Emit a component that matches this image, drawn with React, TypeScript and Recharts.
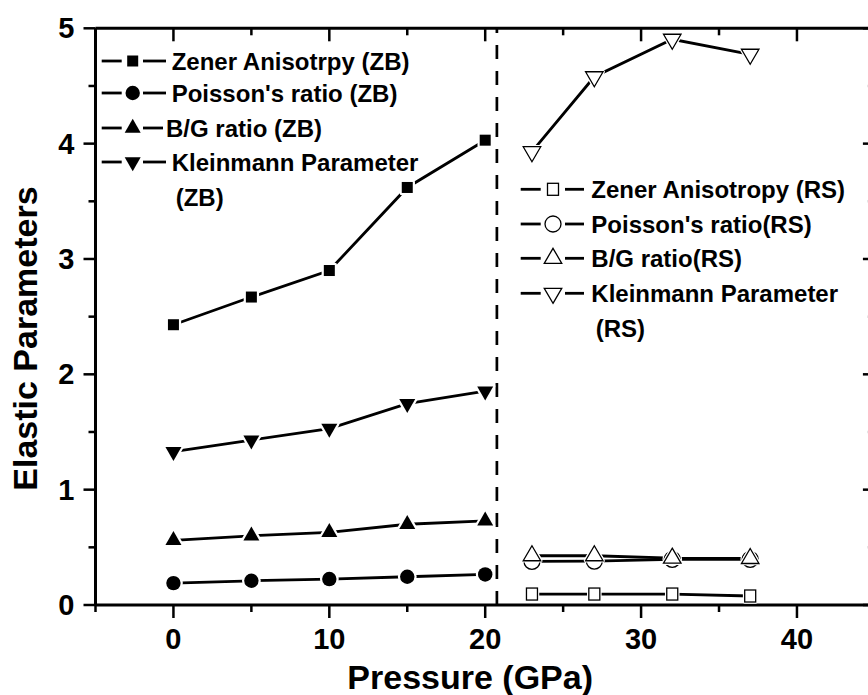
import React from "react";
import { LineChart, Line, XAxis, YAxis, ReferenceLine, Legend, Label } from "recharts";

// pressure points (GPa)
const pressureZB = [0, 5, 10, 15, 20];
const pressureRS = [23, 27, 32, 37];

// zinc blende phase
const zenerZB = [2.43, 2.67, 2.9, 3.62, 4.03];
const poissonZB = [0.19, 0.21, 0.225, 0.245, 0.265];
const bgZB = [0.56, 0.6, 0.63, 0.7, 0.73];
const kleinZB = [1.33, 1.43, 1.53, 1.745, 1.855];

// rock salt phase
const zenerRS = [0.095, 0.095, 0.095, 0.078];
const poissonRS = [0.379, 0.381, 0.396, 0.396];
const bgRS = [0.427, 0.427, 0.406, 0.403];
const kleinRS = [3.93, 4.58, 4.905, 4.775];

const transitionPressure = 20.75;

const xTicks = [-5, 0, 5, 10, 15, 20, 25, 30, 35, 40, 45];
const yTicks = [0, 0.5, 1, 1.5, 2, 2.5, 3, 3.5, 4, 4.5, 5];

const FONT = "'Liberation Sans', Arial, Helvetica, sans-serif";

type Shape = "square" | "circle" | "up" | "down";

interface SeriesDef {
  key: string;
  legend: string[];
  pressure: number[];
  values: number[];
  shape: Shape;
  filled: boolean;
}

const seriesZB: SeriesDef[] = [
  { key: "zenerZB", legend: ["Zener Anisotrpy (ZB)"], pressure: pressureZB, values: zenerZB, shape: "square", filled: true },
  { key: "poissonZB", legend: ["Poisson's ratio (ZB)"], pressure: pressureZB, values: poissonZB, shape: "circle", filled: true },
  { key: "bgZB", legend: ["B/G ratio (ZB)"], pressure: pressureZB, values: bgZB, shape: "up", filled: true },
  { key: "kleinZB", legend: ["Kleinmann Parameter", "(ZB)"], pressure: pressureZB, values: kleinZB, shape: "down", filled: true },
];

const seriesRS: SeriesDef[] = [
  { key: "zenerRS", legend: ["Zener Anisotropy (RS)"], pressure: pressureRS, values: zenerRS, shape: "square", filled: false },
  { key: "poissonRS", legend: ["Poisson's ratio(RS)"], pressure: pressureRS, values: poissonRS, shape: "circle", filled: false },
  { key: "bgRS", legend: ["B/G ratio(RS)"], pressure: pressureRS, values: bgRS, shape: "up", filled: false },
  { key: "kleinRS", legend: ["Kleinmann Parameter", "(RS)"], pressure: pressureRS, values: kleinRS, shape: "down", filled: false },
];

const toPoints = (s: SeriesDef) => s.pressure.map((p, i) => ({ p, v: s.values[i] }));

function drawShape(shape: Shape, filled: boolean, cx: number, cy: number, style: any) {
  const sq = 11;
  const sqH = filled ? 11 : 12;
  const r = filled ? 7.2 : 8;
  const w = filled ? 16 : 17.5;
  const h = filled ? 14 : 15;
  if (shape === "square") return <rect x={cx - sq / 2} y={cy - sqH / 2} width={sq} height={sqH} {...style} />;
  if (shape === "circle") return <circle cx={cx} cy={cy} r={r} {...style} />;
  if (shape === "up")
    return <polygon points={`${cx},${cy - (2 * h) / 3} ${cx + w / 2},${cy + h / 3} ${cx - w / 2},${cy + h / 3}`} {...style} />;
  return <polygon points={`${cx},${cy + (2 * h) / 3} ${cx + w / 2},${cy - h / 3} ${cx - w / 2},${cy - h / 3}`} {...style} />;
}

const Marker = ({ cx, cy, shape, filled, halo }: { cx: number; cy: number; shape: Shape; filled: boolean; halo: number }) => (
  <g>
    {halo > 0 &&
      drawShape(shape, filled, cx, cy, { fill: "#fff", stroke: "#fff", strokeWidth: halo * 2, strokeLinejoin: "round" })}
    {drawShape(shape, filled, cx, cy, filled ? { fill: "#000" } : { fill: "#fff", stroke: "#000", strokeWidth: 1.3 })}
  </g>
);

// tick renderers: tickSize/tickMargin are 0, so x/y is the axis position
const LeftTick = (props: any) => {
  const { x, y, payload } = props;
  const major = Number.isInteger(payload.value);
  return (
    <g>
      <line x1={x - (major ? 12 : 7)} x2={x} y1={y} y2={y} stroke="#000" strokeWidth={2.5} />
      {major && (
        <text x={x - 21} y={y} dy="0.34em" textAnchor="end" fontFamily={FONT} fontWeight="bold" fontSize={29} fill="#000">
          {payload.value}
        </text>
      )}
    </g>
  );
};

const RightTick = (props: any) => {
  const { x, y, payload } = props;
  const major = Number.isInteger(payload.value);
  return <line x1={x - (major ? 12 : 7)} x2={x} y1={y} y2={y} stroke="#000" strokeWidth={2.5} />;
};

const BottomTick = (props: any) => {
  const { x, y, payload } = props;
  const major = payload.value % 10 === 0;
  return (
    <g>
      <line x1={x} x2={x} y1={y} y2={y + (major ? 13 : 7)} stroke="#000" strokeWidth={2.5} />
      {major && (
        <text x={x} y={y + 44} textAnchor="middle" fontFamily={FONT} fontWeight="bold" fontSize={29} fill="#000">
          {payload.value}
        </text>
      )}
    </g>
  );
};

const TopTick = (props: any) => {
  const { x, y, payload } = props;
  const major = payload.value % 10 === 0;
  return <line x1={x} x2={x} y1={y} y2={y + (major ? 13 : 7)} stroke="#000" strokeWidth={2.5} />;
};

interface BlockLayout {
  rows: number[];
  contY: number;
  segA: [number, number];
  markX: number;
  segB: [number, number];
  textX: number;
  contX: number;
}

const zbLayout: BlockLayout = { rows: [61, 93, 128, 162], contY: 197, segA: [101.7, 121.7], markX: 132.7, segB: [143, 166], textX: 171.7, contX: 175.7 };
const rsLayout: BlockLayout = { rows: [189.3, 224, 258.3, 293.3], contY: 328.3, segA: [520.7, 540.7], markX: 553, segB: [565, 584], textX: 591.3, contX: 595.7 };

const LegendBlock = ({ items, lay }: { items: SeriesDef[]; lay: BlockLayout }) => (
  <g>
    {items.map((s, i) => {
      const y = lay.rows[i];
      const tight = s.legend[0].startsWith("B/G") && s.filled;
      const tx = tight ? lay.textX - 5.7 : lay.textX;
      const segEnd = tight ? lay.segB[1] - 3 : lay.segB[1];
      return (
        <g key={s.key}>
          <line x1={lay.segA[0]} x2={lay.segA[1]} y1={y} y2={y} stroke="#000" strokeWidth={2.8} />
          <line x1={lay.segB[0]} x2={segEnd} y1={y} y2={y} stroke="#000" strokeWidth={2.8} />
          <Marker cx={lay.markX} cy={y} shape={s.shape} filled={s.filled} halo={0} />
          <text x={tx} y={y + 8.6} fontFamily={FONT} fontWeight="bold" fontSize={24} fill="#000">
            {s.legend[0]}
          </text>
          {s.legend[1] && (
            <text x={lay.contX} y={lay.contY + 8.6} fontFamily={FONT} fontWeight="bold" fontSize={24} fill="#000">
              {s.legend[1]}
            </text>
          )}
        </g>
      );
    })}
  </g>
);

const LegendContent = () => (
  <svg width={868} height={695} style={{ display: "block" }}>
    <LegendBlock items={seriesZB} lay={zbLayout} />
    <LegendBlock items={seriesRS} lay={rsLayout} />
  </svg>
);

export default function App() {
  const all = [...seriesZB, ...seriesRS];
  return (
    <div style={{ position: "absolute", left: 0, top: 0, width: 868, height: 695, overflow: "hidden", background: "#fff" }}>
      <LineChart width={900} height={695} margin={{ top: 27.3, right: 24.1, bottom: 89, left: 94.5 }}>
        <XAxis
          xAxisId="b"
          dataKey="p"
          type="number"
          domain={[-5, 45]}
          allowDataOverflow
          ticks={xTicks}
          interval={0}
          height={1}
          tickSize={0}
          tickMargin={0}
          tickLine={false}
          tick={<BottomTick />}
          axisLine={{ stroke: "#000", strokeWidth: 3 }}
        >
          <Label
            content={(p: any) => {
              const vb = p.viewBox;
              return (
                <text x={vb.x + vb.width / 2 - 15} y={vb.y + 84} textAnchor="middle" fontFamily={FONT} fontWeight="bold" fontSize={34} fill="#000">
                  Pressure (GPa)
                </text>
              );
            }}
          />
        </XAxis>
        <XAxis
          xAxisId="t"
          orientation="top"
          dataKey="p"
          type="number"
          domain={[-5, 45]}
          allowDataOverflow
          ticks={xTicks}
          interval={0}
          height={1}
          tickSize={0}
          tickMargin={0}
          tickLine={false}
          tick={<TopTick />}
          axisLine={{ stroke: "#000", strokeWidth: 3 }}
        />
        <YAxis
          yAxisId="l"
          type="number"
          domain={[0, 5]}
          allowDataOverflow
          ticks={yTicks}
          interval={0}
          width={1}
          tickSize={0}
          tickMargin={0}
          tickLine={false}
          tick={<LeftTick />}
          axisLine={{ stroke: "#000", strokeWidth: 3 }}
        >
          <Label
            content={(p: any) => {
              const vb = p.viewBox;
              const cx = vb.x + vb.width - 58.2;
              const cy = vb.y + vb.height / 2 + 21.9;
              return (
                <text transform={`translate(${cx}, ${cy}) rotate(-90)`} textAnchor="middle" fontFamily={FONT} fontWeight="bold" fontSize={34} fill="#000">
                  Elastic Parameters
                </text>
              );
            }}
          />
        </YAxis>
        <YAxis
          yAxisId="r"
          orientation="right"
          type="number"
          domain={[0, 5]}
          allowDataOverflow
          ticks={yTicks}
          interval={0}
          width={1}
          tickSize={0}
          tickMargin={0}
          tickLine={false}
          tick={<RightTick />}
          axisLine={{ stroke: "#000", strokeWidth: 3 }}
        />
        <ReferenceLine xAxisId="b" yAxisId="l" x={transitionPressure} stroke="#000" strokeWidth={2.7} strokeDasharray="14 12" />
        {all.map((s) => (
          <Line
            key={s.key}
            xAxisId="b"
            yAxisId="l"
            data={toPoints(s)}
            dataKey="v"
            name={s.legend.join(" ")}
            type="linear"
            stroke="#000"
            strokeWidth={2.8}
            isAnimationActive={false}
            activeDot={false}
            dot={(d: any) => (
              <Marker key={`${s.key}-${d.index}`} cx={d.cx} cy={d.cy} shape={s.shape} filled={s.filled} halo={s.filled ? 2.2 : 1.8} />
            )}
          />
        ))}
        <Legend
          layout="horizontal"
          verticalAlign="middle"
          align="center"
          content={<LegendContent />}
          wrapperStyle={{ left: 0, top: 0, width: 868, height: 695, pointerEvents: "none" }}
        />
      </LineChart>
    </div>
  );
}
